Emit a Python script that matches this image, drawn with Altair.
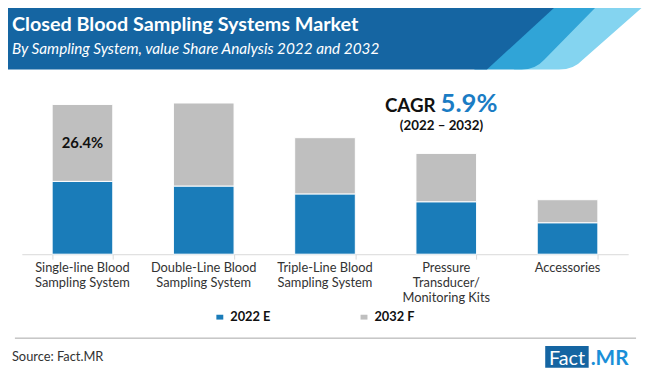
import altair as alt
import pandas as pd

# ---------------- data ----------------
categories = [
    "Single-line Blood\nSampling System",
    "Double-Line Blood\nSampling System",
    "Triple-Line Blood\nSampling System",
    "Pressure\nTransducer/\nMonitoring Kits",
    "Accessories",
]
series = ["2022 E", "2032 F"]
share_2022 = [25.0, 23.4, 20.7, 18.0, 10.8]
share_2032 = [26.4, 28.5, 19.3, 16.6, 7.9]
bar_labels = ["26.4%", "", "", "", ""]
colors = ["#1a7cb9", "#bfbfbf"]

rows = []
for i, c in enumerate(categories):
    rows.append(dict(category=c, series=series[0], value=share_2022[i], order=0, label=""))
    rows.append(dict(category=c, series=series[1], value=share_2032[i], order=1, label=bar_labels[i]))
df = pd.DataFrame(rows)
cat_df = pd.DataFrame({"category": categories})

FONT = "Lato"
# reference-pixel -> plot coordinate helpers (page margin 8 + padding)
PL, PT = 14, 70
def px(x):
    return x - 8 - PL
def py(y):
    return y - 8 - PT

W, H = 614, 177
one = alt.Data(values=[{"k": 1}])

xscale = alt.Scale(domain=categories, paddingInner=0.5, paddingOuter=0.25)
yscale = alt.Scale(domain=[0, 60])

x_enc = alt.X(
    "category:N", sort=categories, scale=xscale,
    axis=alt.Axis(title=None, labels=False, domainColor="#d9d9d9", tickColor="#d9d9d9",
                  tickBand="extent", tickSize=5, grid=False, domainWidth=1),
)

bars = alt.Chart(df).mark_bar(stroke="white", strokeWidth=1).encode(
    x=x_enc,
    y=alt.Y("value:Q", stack="zero", scale=yscale, axis=None),
    color=alt.Color(
        "series:N", scale=alt.Scale(domain=series, range=colors),
        legend=alt.Legend(
            title=None, orient="none", legendX=px(216), legendY=py(312),
            direction="horizontal", symbolType="M-1,-0.7L1,-0.7L1,0.7L-1,0.7Z",
            symbolSize=49, symbolStrokeWidth=0, labelFont=FONT, labelFontSize=13,
            labelFontWeight="bold", labelColor="#111111", columnPadding=88,
            labelOffset=4, padding=0,
        ),
    ),
    order=alt.Order("order:Q"),
)

seg_labels = alt.Chart(df).transform_stack(
    stack="value", as_=["v0", "v1"], groupby=["category"], sort=[alt.SortField("order")]
).transform_calculate(mid="(datum.v0 + datum.v1) / 2").transform_filter(
    "datum.label != ''"
).mark_text(font=FONT, fontSize=15, fontWeight="bold", color="#111111").encode(
    x=alt.X("category:N", sort=categories, scale=xscale),
    y=alt.Y("mid:Q", scale=yscale),
    text="label:N",
)

cat_labels = alt.Chart(cat_df).mark_text(
    font=FONT, fontSize=13, color="#333333", lineBreak="\n", lineHeight=15,
    baseline="alphabetic", align="center",
).encode(
    x=alt.X("category:N", sort=categories, scale=xscale),
    y=alt.value(py(273)),
    text="category:N",
)

# ---------------- decorations ----------------
def shape(path, color):
    return alt.Chart(one).mark_point(
        shape=path, size=4, filled=True, color=color, strokeWidth=0, opacity=1
    ).encode(x=alt.value(px(0)), y=alt.value(py(0)))

light = shape("M600,0L656,0L590,58Q581,68 566,68L520,68Z", "#84d4f0")
medium = shape("M560,0L608,0L551,58Q542,68 528,68L480,68Z", "#30a4d7")
dark = shape("M0,0L567,0L493,68L0,68Z", "#1565a2")

def text(t, x, y, **kw):
    return alt.Chart(one).mark_text(text=t, **kw).encode(x=alt.value(px(x)), y=alt.value(py(y)))

title = text("Closed Blood Sampling Systems Market", 12, 29, font=FONT, fontSize=20,
             fontWeight="bold", color="white", align="left", baseline="alphabetic")
subtitle = text("By Sampling System, value Share Analysis 2022 and 2032", 12, 52, font=FONT,
                fontSize=15.5, fontStyle="italic", color="white", align="left", baseline="alphabetic")

cagr = text("CAGR", 441, 111, font=FONT, fontSize=19, fontWeight="bold", color="#111111",
            align="right", baseline="alphabetic")
cagr_v = text("5.9%", 446, 111, font=FONT, fontSize=26, fontWeight="bold", color="#1a7cc4",
              align="left", baseline="alphabetic")
cagr_p = text("(2022 \u2013 2032)", 447, 129, font=FONT, fontSize=13.5, fontWeight="bold",
              color="#111111", align="center", baseline="alphabetic")

sep = alt.Chart(one).mark_rule(color="#a6a6a6", strokeWidth=1).encode(
    x=alt.value(px(15)), x2=alt.value(px(644)), y=alt.value(py(340))
)
source = text("Source: Fact.MR", 12, 363, font=FONT, fontSize=13, color="#333333",
              align="left", baseline="alphabetic")
logo_box = alt.Chart(one).mark_rect(color="#1565a2").encode(
    x=alt.value(px(552)), x2=alt.value(px(596)), y=alt.value(py(348)), y2=alt.value(py(370))
)
logo_a = text("Fact", 574, 367, font=FONT, fontSize=20, color="white", align="center",
              baseline="alphabetic")
logo_b = text(".MR", 598, 367, font=FONT, fontSize=21, fontWeight="bold", color="#1a8fd8",
              align="left", baseline="alphabetic")

chart = alt.layer(
    light, medium, dark, title, subtitle,
    bars, seg_labels, cat_labels,
    cagr, cagr_v, cagr_p, sep, source, logo_box, logo_a, logo_b,
).properties(
    width=W, height=H,
    padding={"left": PL, "top": PT, "right": 642 - PL - W, "bottom": 366 - PT - H},
    autosize=alt.AutoSizeParams(type="none"),
    background="white",
).configure_view(stroke=None)

chart.save("out.html", embed_options={"renderer": "svg", "actions": False})
